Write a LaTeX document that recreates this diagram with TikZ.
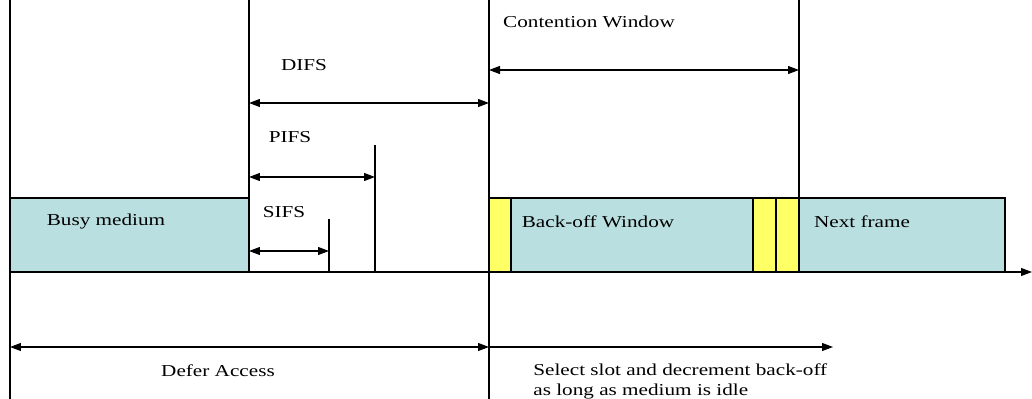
\documentclass[tikz,border=0pt]{standalone}
\usepackage{fontspec}
\setmainfont[FakeStretch=1.27]{Liberation Serif}
\usetikzlibrary{arrows.meta}
\definecolor{mediumteal}{RGB}{185,223,224}
\definecolor{slotyellow}{RGB}{255,255,102}

\begin{document}
\begin{tikzpicture}[x=0.02cm, y=-0.02cm,
    every node/.style={font=\fontsize{9.5}{11.5}\selectfont, inner sep=0pt},
    frame/.style={draw, line width=0.6pt, fill=mediumteal},
    slotbox/.style={draw, line width=0.6pt, fill=slotyellow},
    marker/.style={line width=0.6pt},
    span/.style={line width=0.6pt, {Triangle[length=2.2mm,width=1.6mm]}-{Triangle[length=2.2mm,width=1.6mm]}},
    ahead/.style={line width=0.6pt, -{Triangle[length=2.2mm,width=1.6mm]}}]
  \useasboundingbox (0,0) rectangle (1032,399);
  % frames on the medium
  \draw[frame] (10,198) rectangle (249,272);
  \draw[slotbox] (489,198) rectangle (511,272);
  \draw[frame] (511,198) rectangle (753,272);
  \draw[slotbox] (753,198) rectangle (776,272);
  \draw[slotbox] (776,198) rectangle (799,272);
  \draw[frame] (799,198) rectangle (1005,272);
  % time axis
  \coordinate (origin) at (10,272);
  \coordinate (axisend) at (1032,272);
  \draw[ahead] (origin) -- (axisend);
  % boundaries
  \draw[marker] (10,0) -- (10,399);
  \draw[marker] (249,0) -- (249,272);
  \draw[marker] (489,0) -- (489,399);
  \draw[marker] (799,0) -- (799,198);
  \draw[marker] (329,219) -- (329,272);
  \draw[marker] (375,145) -- (375,272);
  % interframe spaces
  \coordinate (sifsL) at (249,251);  \coordinate (sifsR) at (329,251);
  \coordinate (pifsL) at (249,177);  \coordinate (pifsR) at (375,177);
  \coordinate (difsL) at (249,103);  \coordinate (difsR) at (489,103);
  \coordinate (cwL) at (489,70);     \coordinate (cwR) at (799,70);
  \coordinate (deferL) at (10,347);  \coordinate (deferR) at (489,347);
  \coordinate (selectL) at (489,347); \coordinate (selectR) at (833,347);
  \draw[span] (sifsL) -- (sifsR);
  \draw[span] (pifsL) -- (pifsR);
  \draw[span] (difsL) -- (difsR);
  \draw[span] (cwL) -- (cwR);
  \draw[span] (deferL) -- (deferR);
  \draw[ahead] (selectL) -- (selectR);
  % labels
  \node (busy) at (106,222) {Busy medium};
  \node (backoff) at (598,222) {Back-off Window};
  \node (next) at (862,222) {Next frame};
  \node (sifs) at (284,212) {SIFS};
  \node (pifs) at (290,137) {PIFS};
  \node (difs) at (304,65) {DIFS};
  \node (cw) at (589,22) {Contention Window};
  \node (defer) at (218,371) {Defer Access};
  \node[anchor=north west, align=left] (select) at (533,363) {Select slot and decrement back-off\\as long as medium is idle};
\end{tikzpicture}
\end{document}
